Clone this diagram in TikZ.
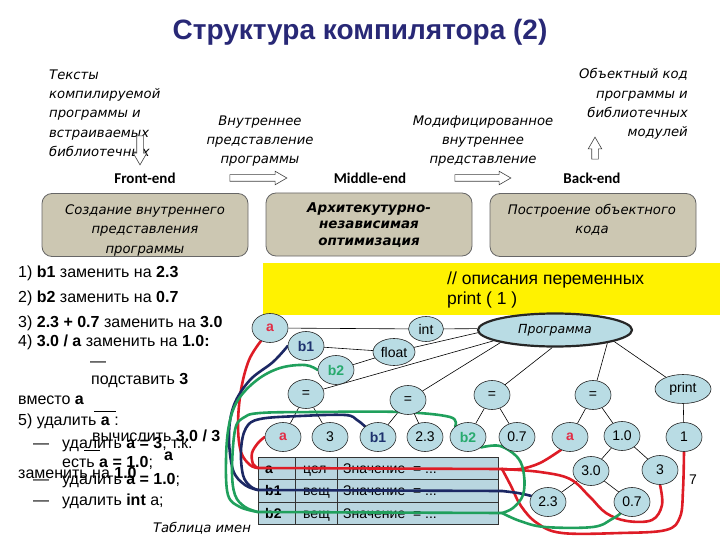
\documentclass[tikz,border=0pt]{standalone}
\usepackage{fontspec}
\setmainfont{Liberation Sans}
\newfontfamily\dvfont{DejaVu Sans}
\newfontfamily\cbfont{Carlito}
\usetikzlibrary{shapes.geometric,shapes.arrows}
\definecolor{titleblue}{RGB}{40,40,118}
\definecolor{khaki}{RGB}{204,199,178}
\definecolor{bubble}{RGB}{185,220,228}
\definecolor{cellblue}{RGB}{185,214,224}
\definecolor{cred}{RGB}{222,28,38}
\definecolor{cnavy}{RGB}{28,40,100}
\definecolor{cgreen}{RGB}{32,160,92}
\definecolor{tred}{RGB}{225,45,70}
\definecolor{tnavy}{RGB}{30,50,110}
\definecolor{tgreen}{RGB}{40,170,110}
\pgfdeclarelayer{edgelayer}
\pgfdeclarelayer{curvelayer}
\pgfsetlayers{edgelayer,curvelayer,main}
\begin{document}
\begin{tikzpicture}[x=1pt,y=-1pt,
  bub/.style={ellipse,draw=black!85,line width=0.6pt,fill=bubble,inner sep=0pt,minimum width=36pt,minimum height=29pt,font=\fontsize{14}{16}\selectfont},
  treeline/.style={draw=black,line width=0.6pt},
  cv/.style={line width=2.6pt,line cap=round,line join=round},
  itx/.style={font=\dvfont\itshape\fontsize{13.2}{19.3}\selectfont,inner sep=0pt},
  lst/.style={anchor=base west,font=\fontsize{16}{18}\selectfont,inner sep=0pt},
  blockarr/.style={single arrow,draw=black!75,fill=white,line width=0.6pt,inner sep=3pt,single arrow head extend=3.5pt,single arrow tip angle=60},
  stagebox/.style={rounded corners=10pt,draw=black!60,fill=khaki,line width=0.8pt,minimum width=206pt,minimum height=63pt,inner sep=0pt},
  stagelbl/.style={font=\cbfont\bfseries\fontsize{15}{17}\selectfont,inner sep=0pt},
  cell/.style={draw=black!80,fill=cellblue,line width=0.7pt,anchor=north west,minimum height=22.3pt,inner sep=0pt},
  celltxt/.style={anchor=base west,font=\fontsize{14}{16}\selectfont,inner sep=0pt}
]
\useasboundingbox (0,0) rectangle (720,540);
% title
\node[font=\bfseries\fontsize{28}{30}\selectfont,text=titleblue] (title) at (360,32) {Структура компилятора (2)};
% top texts and arrows
\node[itx,align=left,anchor=west] (src) at (49,113) {Тексты\\компилируемой\\программы и\\встраиваемых\\библиотечных};
\node[blockarr,minimum height=29pt,shape border rotate=270] (adown) at (140,147.5) {};
\node[stagelbl] (fe) at (145,178) {Front-end};
\node[stagelbl] (me) at (370,178) {Middle-end};
\node[stagelbl] (be) at (592,178) {Back-end};
\node[itx,align=center] (ir) at (260,141) {Внутреннее\\представление\\программы};
\node[blockarr,minimum height=57pt] (a1) at (255.5,178) {};
\node[itx,align=center] (mir) at (483,141) {Модифицированное\\внутреннее\\представление};
\node[blockarr,minimum height=56pt] (a2) at (480,178) {};
\node[itx,align=right,anchor=east] (obj) at (688,104) {Объектный код\\программы и\\библиотечных\\модулей};
\node[blockarr,minimum height=22pt,shape border rotate=90] (aup) at (595,151) {};
% stage boxes
\node[stagebox] (box1) at (145,225) {};
\node[itx,align=center,font=\dvfont\itshape\fontsize{13.2}{19.5}\selectfont] (box1t) at (145,230) {Создание внутреннего\\представления\\программы};
\node[stagebox] (box2) at (369,224.5) {};
\node[itx,align=center,font=\dvfont\bfseries\itshape\fontsize{13.5}{16.5}\selectfont] (box2t) at (369,225) {Архитекутурно-\\независимая\\оптимизация};
\node[stagebox] (box3) at (593,225) {};
\node[itx,align=center,font=\dvfont\itshape\fontsize{13.2}{19.5}\selectfont] (box3t) at (592,220) {Построение объектного\\кода};
% yellow
\node[fill=yellow,anchor=north west,minimum width=457pt,minimum height=52pt,inner sep=0pt] (yel) at (263,263) {};
\node[anchor=west,align=left,font=\fontsize{17.5}{19.5}\selectfont,inner sep=0pt] (ytxt) at (447,290) {// описания переменных\\print ( 1 )};
% list
\node[lst] (l1) at (18,277) {1) \textbf{b1} заменить на \textbf{2.3}};
\node[lst] (l2) at (18,302) {2) \textbf{b2} заменить на \textbf{0.7}};
\node[lst] (l3) at (18,327) {3) \textbf{2.3 + 0.7} заменить на \textbf{3.0}};
\node[lst] (l4) at (18,346) {4) \textbf{3.0 / a} заменить на \textbf{1.0:}};
\node[lst] (l4a) at (90,366) {—};
\node[lst] (l4b) at (91,384) {подставить \textbf{3}};
\node[lst] (l4c) at (18,404) {вместо \textbf{a}};
\node[lst] (l5) at (18,425) {5) удалить \textbf{a} :};
\node[lst] (l5a) at (92,441) {вычислить \textbf{3.0 / 3}};
\node[lst] (l5b) at (33,448) {\makebox[29pt][l]{—}удалить \textbf{a = 3}; т.к.};
\node[lst] (l5c) at (62,467) {есть \textbf{a = 1.0};};
\node[lst] (l5d) at (164,460) {\textbf{a}};
\node[lst] (l5e) at (18,478) {заменить на \textbf{1.0}};
\node[lst] (l5f) at (33,484) {\makebox[29pt][l]{—}удалить \textbf{a = 1.0};};
\node[lst] (l5g) at (33,505) {\makebox[29pt][l]{—}удалить \textbf{int} a;};
\draw[line width=0.9pt] (94,411) -- (116,411);
\draw[line width=0.9pt] (84,450) -- (100,450);
\node[itx] (tabname) at (202,528) {Таблица имен};
% tree nodes
\node[bub] (ta) at (270,328) {\textcolor{tred}{\textbf{a}}};
\node[bub,minimum width=35pt,minimum height=25pt] (tint) at (426,329) {int};
\node[bub] (tb1) at (306,346) {\textcolor{tnavy}{\textbf{b1}}};
\node[bub,minimum width=42pt,minimum height=27pt] (tfloat) at (394,352) {float};
\node[bub] (tb2) at (336,370) {\textcolor{tgreen}{\textbf{b2}}};
\node[bub,minimum width=154pt,minimum height=33pt,line width=2.2pt,font=\dvfont\itshape\fontsize{12.5}{14}\selectfont] (prog) at (555,330) {Программа};
\node[bub] (e1) at (306,394) {=};
\node[bub] (e2) at (408,400) {=};
\node[bub] (e3) at (492,395) {=};
\node[bub] (e4) at (593,395) {=};
\node[bub,minimum width=56pt] (pr) at (683,389) {print};
\node[bub] (ra) at (283,437) {\textcolor{tred}{\textbf{a}}};
\node[bub] (r3) at (330,437) {3};
\node[bub] (rb1) at (378,437) {\textcolor{tnavy}{\textbf{b1}}};
\node[bub] (r23) at (425,437) {2.3};
\node[bub] (rb2) at (468,437) {\textcolor{tgreen}{\textbf{b2}}};
\node[bub] (r07) at (517,437) {0.7};
\node[bub] (ra2) at (570,437) {\textcolor{tred}{\textbf{a}}};
\node[bub] (r10) at (622,436) {1.0};
\node[bub] (r1) at (684,437) {1};
\node[bub] (r30) at (591,471) {3.0};
\node[bub] (r3b) at (660,470) {3};
\node[bub] (r23b) at (548,502) {2.3};
\node[bub] (r07b) at (632,502) {0.7};
\node[font=\fontsize{14}{16}\selectfont] (seven) at (693,480) {7};
% tree edges
\begin{pgfonlayer}{edgelayer}
\draw[treeline] (ta) -- (tint);
\draw[treeline] (tint) -- (prog.179);
\draw[treeline] (tb1) -- (tfloat);
\draw[treeline] (tb2) -- (tfloat);
\draw[treeline] (tfloat) -- (prog.182);
\draw[treeline] (e1) -- (prog.190);
\draw[treeline] (e2) -- (prog.193);
\draw[treeline] (e3) -- (prog.-99);
\draw[treeline] (e4) -- (prog.-14);
\draw[treeline] (pr) -- (prog.-11);
\draw[treeline] (e1) -- (ra);
\draw[treeline] (e1) -- (r3);
\draw[treeline] (e2) -- (rb1);
\draw[treeline] (e2) -- (r23);
\draw[treeline] (e3) -- (rb2);
\draw[treeline] (e3) -- (r07);
\draw[treeline] (e4) -- (ra2);
\draw[treeline] (e4) -- (r10);
\draw[treeline] (pr) -- (r1);
\draw[treeline] (r10) -- (r30);
\draw[treeline] (r10) -- (r3b);
\draw[treeline] (r30) -- (r23b);
\draw[treeline] (r30) -- (r07b);
\end{pgfonlayer}
% table and curves
\begin{pgfonlayer}{curvelayer}
\node[cell,minimum width=37pt] (c11) at (258,457) {};
\node[cell,minimum width=42pt] (c12) at (295,457) {};
\node[cell,minimum width=161pt] (c13) at (337,457) {};
\node[cell,minimum width=37pt] (c21) at (258,479.3) {};
\node[cell,minimum width=42pt] (c22) at (295,479.3) {};
\node[cell,minimum width=161pt] (c23) at (337,479.3) {};
\node[cell,minimum width=37pt] (c31) at (258,501.6) {};
\node[cell,minimum width=42pt] (c32) at (295,501.6) {};
\node[cell,minimum width=161pt] (c33) at (337,501.6) {};
\node[celltxt] at (265,473) {\textbf{a}};
\node[celltxt] at (303,473) {цел};
\node[celltxt] at (343,473) {Значение ~= ...};
\node[celltxt] at (265,495.5) {\textbf{b1}};
\node[celltxt] at (303,495.5) {вещ};
\node[celltxt] at (343,495.5) {Значение ~= ...};
\node[celltxt] at (265,518) {\textbf{b2}};
\node[celltxt] at (303,518) {вещ};
\node[celltxt] at (343,518) {Значение ~= ...};
\coordinate (ra0) at (258,468);
\coordinate (ra1) at (502,469);
\coordinate (rb0) at (258,490);
\coordinate (rb1e) at (502,491);
\coordinate (rc0) at (258,512);
\coordinate (rc1) at (502,513);
% red
\draw[cv,cred] plot[smooth,tension=0.6] coordinates {(ta.235) (249,360) (241,390) (238,425) (241,452) (250,465) (ra0)} -- (ra1);
\draw[cv,cred] plot[smooth,tension=0.6] coordinates {(ra.west) (258,443) (252,453) (253,464) (ra0)};
\draw[cv,cred] plot[smooth,tension=0.6] coordinates {(ra1) (520,469) (540,463) (ra2.235)};
\draw[cv,cred] plot[smooth,tension=0.6] coordinates {(ra1) (540,472) (570,479) (590,497) (606,513) (627,521) (652,520) (662,505) (r3b.south)};
\draw[cv,cred] plot[smooth,tension=0.6] coordinates {(ra1) (511,486) (521,506) (537,523) (562,533) (620,533) (666,530) (680,517) (683,490) (r1.south)};
% navy
\draw[cv,cnavy] plot[smooth,tension=0.6] coordinates {(tb1.west) (273,362) (250,380) (234,405) (229,435) (233,470) (245,485) (rb0)} -- (rb1e);
\draw[cv,cnavy] plot[smooth,tension=0.6] coordinates {(rb1.north west) (357,420) (345,415) (300,416) (260,419) (246,428) (241,450) (243,475) (250,486) (rb0)};
\draw[cv,cnavy] plot[smooth,tension=0.6] coordinates {(rb1e) (518,493) (r23b.160)};
% green
\draw[cv,cgreen] plot[smooth,tension=0.6] coordinates {(tb2.west) (305,365) (280,368) (257,380) (238,400) (229,425) (226,460) (228,495) (240,507) (rc0)} -- (rc1);
\draw[cv,cgreen] plot[smooth,tension=0.6] coordinates {(rb2.north west) (450,417) (400,412) (317,412) (260,413) (243,418) (235,430) (232,470) (235,495) (245,507) (rc0)};
\draw[cv,cgreen] plot[smooth,tension=0.6] coordinates {(rc1) (513,508) (523,495) (524,475) (518,458) (500,446) (rb2.south east)};
\draw[cv,cgreen] plot[smooth,tension=0.6] coordinates {(rc1) (520,521) (545,527) (593,527) (612,519) (r07b.225)};
\end{pgfonlayer}
\end{tikzpicture}
\end{document}
